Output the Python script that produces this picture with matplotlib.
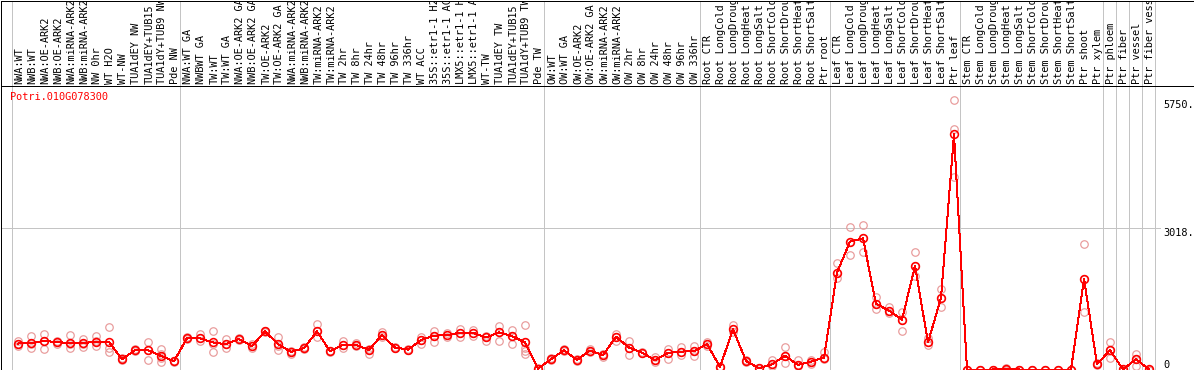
import matplotlib
matplotlib.use('Agg')
import matplotlib.pyplot as plt
from matplotlib import transforms
import numpy as np

# gene expression profile, one column per sample
gene = "Potri.010G078300"

labels = [
    "NWA:WT", "NWB:WT", "NWA:OE-ARK2", "NWB:OE-ARK2", "NWA:miRNA-ARK2", "NWB:miRNA-ARK2",
    "NW 0hr", "WT H2O", "WT-NW", "TUA1dEY NW", "TUA1dEY+TUB15", "TUA1dY+TUB9 NW", "Pde NW",
    "NWA:WT GA", "NWBWT GA", "TW:WT", "TW:WT GA", "NWA:OE-ARK2 GA", "NWB:OE-ARK2 GA",
    "TW:OE-ARK2", "TW:OE-ARK2 GA", "NWA:miRNA-ARK2", "NWB:miRNA-ARK2", "TW:miRNA-ARK2",
    "TW:miRNA-ARK2", "TW 2hr", "TW 8hr", "TW 24hr", "TW 48hr", "TW 96hr", "TW 336hr",
    "WT ACC", "35S::etr1-1 H2", "35S::etr1-1 AC", "LMX5::etr1-1 H", "LMX5::etr1-1 A",
    "WT-TW", "TUA1dEY TW", "TUA1dEY+TUB15", "TUA1dY+TUB9 TW", "Pde TW",
    "OW:WT", "OW:WT GA", "OW:OE-ARK2", "OW:OE-ARK2 GA", "OW:miRNA-ARK2", "OW:miRNA-ARK2",
    "OW 2hr", "OW 8hr", "OW 24hr", "OW 48hr", "OW 96hr", "OW 336hr",
    "Root CTR", "Root LongCold", "Root LongDroug", "Root LongHeat", "Root LongSalt",
    "Root ShortCold", "Root ShortDrou", "Root ShortHeat", "Root ShortSalt", "Ptr root",
    "Leaf CTR", "Leaf LongCold", "Leaf LongDroug", "Leaf LongHeat", "Leaf LongSalt",
    "Leaf ShortCold", "Leaf ShortDrou", "Leaf ShortHeat", "Leaf ShortSalt", "Ptr leaf",
    "Stem CTR", "Stem LongCold", "Stem LongDroug", "Stem LongHeat", "Stem LongSalt",
    "Stem ShortCold", "Stem ShortDrou", "Stem ShortHeat", "Stem ShortSalt", "Ptr shoot",
    "Ptr xylem", "Ptr phloem", "Ptr fiber", "Ptr vessel", "Ptr fiber vess",
]

# number of samples in each experiment block
group_sizes = [13, 28, 12, 10, 10, 11, 1, 1, 1, 1]

means = [
    554, 563, 612, 584, 563, 563, 591, 584, 219, 412, 412, 290, 176,
    670, 662, 576, 541, 649, 498, 812, 541, 376, 455, 812, 391, 526, 526, 419,
    735, 468, 425, 627, 720, 735, 784, 784, 683, 790, 713, 576, 17,
    219, 412, 204, 404, 305, 698, 468, 361, 198, 354, 382, 391,
    541, 54, 855, 183, 26, 112, 290, 97, 168, 253,
    2066, 2728, 2797, 1400, 1257, 1063, 2208, 576, 1529, 5016,
    0, 0, 0, 10, 0, 0, 0, 0, 0, 1937, 112,
    412, 4, 219, 4,
]

reps = [
    [612, 554, 505], [705, 541, 468], [756, 612, 434], [612, 576, 554], [735, 541, 468],
    [649, 554, 483], [713, 612, 505], [898, 468, 382], [240, 219, 200], [430, 412, 395],
    [591, 412, 198], [434, 326, 253, 168], [190, 176, 160],
    [700, 670, 640], [756, 662, 612], [827, 541, 376], [649, 541, 455], [670, 649, 630],
    [541, 498, 455], [830, 812, 790], [683, 505, 412], [400, 376, 340], [470, 455, 440],
    [971, 812, 683], [400, 391, 380], [612, 526, 468], [560, 526, 500], [430, 419, 326],
    [790, 735, 683], [480, 468, 450], [435, 425, 415], [683, 627, 554], [827, 720, 576],
    [780, 735, 683], [863, 784, 683], [840, 784, 720], [720, 683, 612], [934, 790, 612],
    [842, 713, 554], [949, 576, 468, 397, 326], [30, 17, 5],
    [240, 219, 200], [430, 412, 395], [215, 204, 190], [440, 404, 370], [340, 305, 270],
    [756, 698, 612], [612, 468, 311], [375, 361, 350], [270, 198, 168], [434, 354, 219],
    [490, 382, 305], [505, 391, 290],
    [580, 541, 505], [60, 54, 45], [949, 855, 790], [200, 183, 170], [35, 26, 15],
    [206, 112, 75], [483, 290, 146], [200, 97, 70], [200, 168, 120], [376, 253, 219],
    [2277, 2066, 1958], [3046, 2728, 2438], [3082, 2797, 2509], [1536, 1400, 1299],
    [1343, 1257, 1213], [1220, 1063, 827], [2496, 2208, 1987], [677, 576, 526],
    [1708, 1529, 1327], [5750, 5138, 4107],
    [0, 0, 0], [0, 0, 0], [0, 0, 0], [39, 0, 0], [0, 0, 0], [0, 0, 0], [0, 0, 0],
    [0, 0, 0], [0, 0, 0], [2674, 1937, 1220], [130, 112, 95],
    [576, 412, 253], [0, 0, 0], [326, 219, 75], [0, 0, 0],
]

yticks = [0, 3018, 5750]
ytick_labels = ["0", "3018.", "5750."]

plt.rcParams['font.family'] = 'DejaVu Sans Mono'
plt.rcParams['font.size'] = 7.4

W, H = 1194, 370
HEAD = 85
PX = 0.72  # one pixel in points at dpi 100
fig = plt.figure(figsize=(W / 100, H / 100), dpi=100)

# column i sits at pixel 18 + 13*i
x0 = (1 - 18) / 13
x1 = (W - 18) / 13
ymax = (369.5 - 85.5) * 3018 / (369.5 - 228)

ax = fig.add_axes([1 / W, 0.5 / H, (W - 1) / W, (H - HEAD - 1) / H])
hd = fig.add_axes([1 / W, (H - HEAD - 0.5) / H, (W - 1) / W, HEAD / H])

for a in (ax, hd):
    a.set_xlim(x0, x1)
    a.set_xticks([])
    a.set_yticks([])
    for s in a.spines.values():
        s.set_linewidth(PX)
        s.set_color('black')
        s.set_antialiased(False)
    a.spines['right'].set_visible(False)
ax.spines['top'].set_visible(False)
ax.set_ylim(0, ymax)
hd.set_ylim(0, 1)

edges = np.cumsum(group_sizes) - 0.5
for e in np.concatenate([[-0.5], edges]):
    for a in (ax, hd):
        a.axvline(e, color='#c4c4c4', lw=PX, antialiased=False, zorder=0)

ax.axhline(3018, xmax=(1160 - 1) / (W - 1), color='#c4c4c4', lw=PX,
           antialiased=False, zorder=0)

xs = np.arange(len(labels))
hb = transforms.blended_transform_factory(hd.transData, hd.transAxes)
for i, lab in enumerate(labels):
    hd.text(i + 0.1, 2 / HEAD, lab, transform=hb, rotation=90, ha='center', va='bottom',
            color='black', clip_on=True)

# replicates first, then the mean profile on top
for i, r in enumerate(reps):
    ax.plot([i] * len(r), r, 'o', ms=5.4, mfc='none', mec='#e89a9a', mew=PX * 1.2,
            antialiased=False, zorder=2)
ax.plot(xs, means, '-', color='#ff0000', lw=PX, antialiased=False, zorder=3)
ax.plot(xs, means, 'o', ms=5.6, mfc='none', mec='#ff0000', mew=PX * 1.6,
        antialiased=False, zorder=4)

ax.text((10 - 1) / (W - 1), (369.5 - 97) / 284, gene, transform=ax.transAxes,
        color='#ff0000', ha='left', va='center')

yb = transforms.blended_transform_factory(ax.transAxes, ax.transData)
for v, t in zip(yticks, ytick_labels):
    ax.text((1163 - 1) / (W - 1), v, t, transform=yb, ha='left',
            va='bottom' if v == 0 else 'top', color='black')

fig.savefig('out.png', dpi=100)
